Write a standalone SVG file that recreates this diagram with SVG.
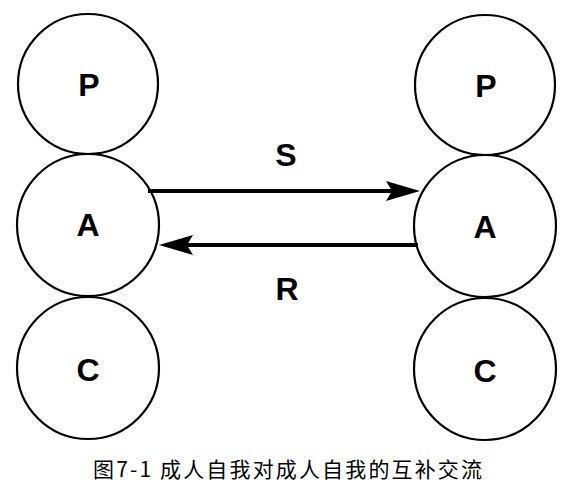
<svg xmlns="http://www.w3.org/2000/svg" width="580" height="496" viewBox="0 0 580 496">
<style>
.ego{fill:#fff;stroke:#000;stroke-width:2.2}
.lbl{font-family:"Liberation Sans",Arial,sans-serif;font-weight:bold;font-size:32px;text-anchor:middle;fill:#000}
.link{stroke:#000;stroke-width:4;fill:none}
.cap{font-family:"Noto Sans CJK SC","Noto Sans",sans-serif;font-size:21px;fill:#000}
</style>
<rect width="580" height="496" fill="#fff"/>
<g id="left-P"><circle class="ego" cx="88" cy="84" r="70"/><text class="lbl" x="89" y="96">P</text></g>
<g id="left-A"><circle class="ego" cx="88" cy="225" r="71"/><text class="lbl" x="88" y="236">A</text></g>
<g id="left-C"><circle class="ego" cx="88" cy="368" r="71"/><text class="lbl" x="88" y="381">C</text></g>
<g id="right-P"><circle class="ego" cx="485" cy="85" r="70"/><text class="lbl" x="486" y="97">P</text></g>
<g id="right-A"><circle class="ego" cx="485" cy="226" r="71"/><text class="lbl" x="485" y="238">A</text></g>
<g id="right-C"><circle class="ego" cx="485" cy="369" r="71"/><text class="lbl" x="485" y="382">C</text></g>
<g id="connectors">
<line class="link" x1="148" y1="191" x2="392" y2="191"/>
<path d="M420,191 L386,181 L392,191 L386,201 Z" fill="#000"/>
<line class="link" x1="418" y1="245" x2="187" y2="245"/>
<path d="M159,245 L193,235 L187,245 L193,255 Z" fill="#000"/>
<text class="lbl" x="286" y="166">S</text>
<text class="lbl" x="287" y="300">R</text>
</g>
<text class="cap" x="93" y="477" textLength="389" lengthAdjust="spacing">图7-1 成人自我对成人自我的互补交流</text>
</svg>
